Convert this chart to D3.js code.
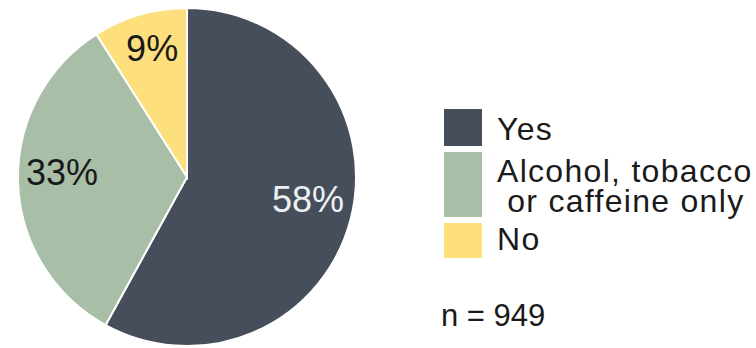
<!DOCTYPE html>
<html>
<head>
<meta charset="utf-8">
<script src="https://d3js.org/d3.v7.min.js"></script>
<style>
  body { margin: 0; background: #fff; }
  text { font-family: "Liberation Sans", Arial, sans-serif; }
</style>
</head>
<body>
<script>
// slice data
var categories = ["Yes", "Alcohol, tobacco or caffeine only", "No"];
var values = [58, 33, 9];
var sliceLabels = ["58%", "33%", "9%"];
var legendLines = [["Yes"], ["Alcohol, tobacco", " or caffeine only"], ["No"]];
var colors = ["#464e5b", "#a8bea7", "#fde07d"];
var labelColors = ["#eef0f2", "#1a1a1a", "#1a1a1a"];
var sampleSize = 949;

var width = 756, height = 348;
var cx = 187, cy = 177, radius = 169;

var svg = d3.select("body").append("svg")
    .attr("width", width)
    .attr("height", height);

var pie = d3.pie().sort(null).value(function(d) { return d; });
var arcs = pie(values);

var arc = d3.arc().innerRadius(0).outerRadius(radius);
var labelArc = d3.arc().innerRadius(250).outerRadius(0); // centroid at r=125

var g = svg.append("g").attr("transform", "translate(" + cx + "," + cy + ")");

g.selectAll("path.slice")
    .data(arcs)
  .enter().append("path")
    .attr("class", "slice")
    .attr("d", arc)
    .attr("fill", function(d, i) { return colors[i]; })
    .attr("stroke", "#fff")
    .attr("stroke-width", 2);

g.selectAll("text.pct")
    .data(arcs)
  .enter().append("text")
    .attr("class", "pct")
    .attr("transform", function(d) { return "translate(" + labelArc.centroid(d) + ")"; })
    .attr("text-anchor", "middle")
    .attr("dy", "0.1em")
    .style("font-size", "36px")
    .attr("fill", function(d, i) { return labelColors[i]; })
    .text(function(d, i) { return sliceLabels[i]; });

// legend
var boxes = [{y: 109, h: 37}, {y: 152, h: 65}, {y: 223, h: 35}];
var baselines = [[140], [182], [250]];

var legend = svg.append("g");
categories.forEach(function(c, i) {
  legend.append("rect")
      .attr("x", 444).attr("y", boxes[i].y)
      .attr("width", 38).attr("height", boxes[i].h)
      .attr("fill", colors[i]);
  legendLines[i].forEach(function(line, j) {
    legend.append("text")
        .attr("x", 497).attr("y", baselines[i][0] + j * 30)
        .attr("xml:space", "preserve")
        .style("white-space", "pre")
        .style("font-size", "32px")
        .style("letter-spacing", "1.3px")
        .attr("fill", "#1a1a1a")
        .text(line);
  });
});

svg.append("text")
    .attr("x", 441).attr("y", 326)
    .style("font-size", "31px")
    .attr("fill", "#1a1a1a")
    .text("n = " + sampleSize);
</script>
</body>
</html>
